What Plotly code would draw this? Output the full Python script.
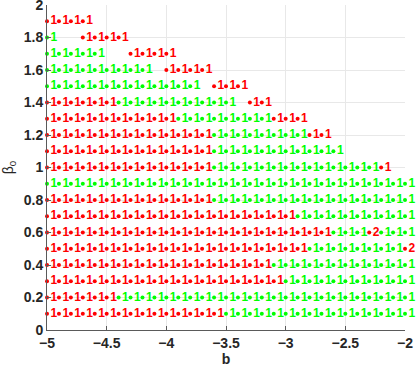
import plotly.graph_objects as go

# b grid (x positions of the points)
b_values = [-5.0, -4.9, -4.8, -4.7, -4.6, -4.5, -4.4, -4.3, -4.2, -4.1,
            -4.0, -3.9, -3.8, -3.7, -3.6, -3.5, -3.4, -3.3, -3.2, -3.1,
            -3.0, -2.9, -2.8, -2.7, -2.6, -2.5, -2.4, -2.3, -2.2, -2.1, -2.0]

# beta_0 rows
beta_values = [0.1, 0.2, 0.3, 0.4, 0.5, 0.6, 0.7, 0.8, 0.9, 1.0,
               1.1, 1.2, 1.3, 1.4, 1.5, 1.6, 1.7, 1.8, 1.9]

# one code per b value: r = red "1", g = green "1", R = red "2", . = no point
# (spaces only group the codes by five)
row_codes = [
    "rrrrr rrrrr rrrrr ggggg ggggg ggggg g",  # 0.1
    "rrrrr rgggg ggggg ggggg ggggg ggggg g",  # 0.2
    "rrrrr rrrrr rrrrr rrrrr ggggg ggggg g",  # 0.3
    "rrrrr rrrrr rrrrr rrrrg ggggg ggggg g",  # 0.4
    "rrrrr rrrrr rrrrr rrrrr rrggg ggggg R",  # 0.5
    "rrrrr rrrrr rrrrr rrrrr rrrrg ggRgg g",  # 0.6
    "rrrrr rrrrr rrrrr rrrrr rgggg ggggg g",  # 0.7
    "rrrrr rrrrr rrrrg ggggg ggggg ggggg g",  # 0.8
    "ggggg ggggg ggggg ggggg ggggg ggggg g",  # 0.9
    "rrrrr rrrrr rrrrg ggggg ggggg gggr. .",  # 1.0
    "rrrrr rrrrr rrrrg ggggg ggggg ..... .",  # 1.1
    "rrrrr rrrrr rrrrg ggggg ggrr. ..... .",  # 1.2
    "rrrrr rrrrr rgggg ggggr rr... ..... .",  # 1.3
    "rrrrr rgggg ggggg g.rr. ..... ..... .",  # 1.4
    "ggggg ggggg ggg.r rr... ..... ..... .",  # 1.5
    "ggggg gggg. rrrr. ..... ..... ..... .",  # 1.6
    "ggggg ..rrr r.... ..... ..... ..... .",  # 1.7
    "g..rr rr... ..... ..... ..... ..... .",  # 1.8
    "rrrr. ..... ..... ..... ..... ..... .",  # 1.9
]

styles = {
    "r": ("#ff0000", "1"),
    "g": ("#00ff00", "1"),
    "R": ("#ff0000", "2"),
}

fig = go.Figure()

for code_key, (color, label) in styles.items():
    xs, ys = [], []
    for beta, code in zip(beta_values, row_codes):
        code = code.replace(" ", "")
        assert len(code) == len(b_values)
        for b, c in zip(b_values, code):
            if c == code_key:
                xs.append(b)
                ys.append(beta)
    fig.add_trace(go.Scatter(
        x=xs, y=ys,
        mode="markers+text",
        text=[label] * len(xs),
        textposition="middle right",
        textfont=dict(family="Liberation Sans", size=12, color=color, weight="bold"),
        marker=dict(size=4, color=color),
        cliponaxis=False,
        showlegend=False,
    ))

axis_common = dict(
    showline=True,
    linecolor="#5a5a5a",
    linewidth=1,
    ticks="inside",
    ticklen=4,
    tickcolor="#5a5a5a",
    showgrid=True,
    gridcolor="#e8e8e8",
    zeroline=False,
    automargin=False,
    ticklabeloverflow="allow",
    tickfont=dict(family="Liberation Sans", size=14, color="#262626", weight="bold"),
)

fig.update_layout(
    width=416,
    height=369,
    margin=dict(l=47, r=11, t=5, b=39),
    plot_bgcolor="white",
    paper_bgcolor="white",
    xaxis=dict(
        range=[-5, -2], tick0=-5, dtick=0.5,
        title=dict(text="b", standoff=4,
                   font=dict(family="Liberation Sans", size=14, color="#262626", weight="bold")),
        **axis_common,
    ),
    yaxis=dict(
        range=[0, 2], tick0=0, dtick=0.2,
        title=dict(text="β<sub>0</sub>", standoff=8,
                   font=dict(family="Liberation Sans", size=14, color="#262626")),
        **axis_common,
    ),
)

# the page's default body margin would shift the figure by 8px
fig.write_html("out.html", config={"displayModeBar": False},
               post_script="document.body.style.margin='0';")
